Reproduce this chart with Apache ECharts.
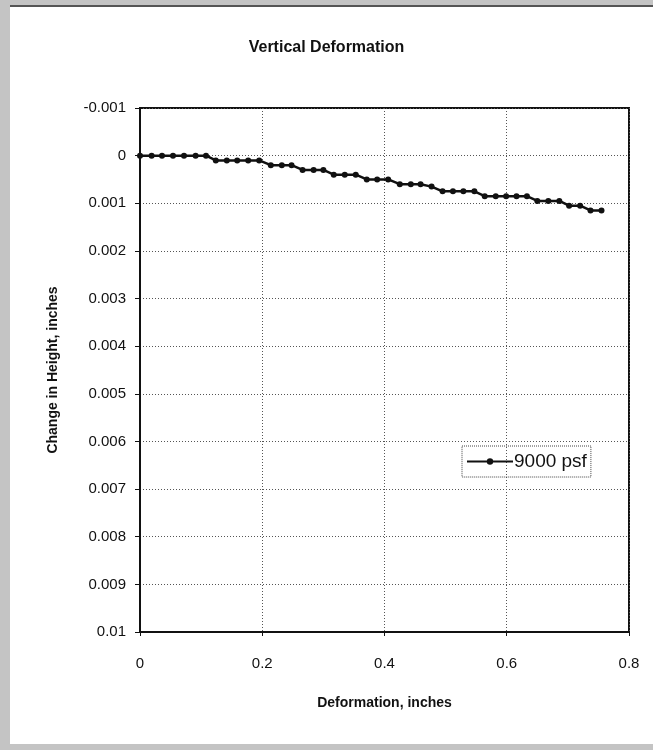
<!DOCTYPE html>
<html>
<head>
<meta charset="utf-8">
<script src="https://cdn.jsdelivr.net/npm/echarts@6/dist/echarts.min.js"></script>
<style>
  html, body { margin: 0; padding: 0; background: #fff; }
  #chart { width: 653px; height: 750px; }
</style>
</head>
<body>
<div id="chart"></div>
<script>
// deformation (inches)
const deformation = [
  0, 0.019, 0.036, 0.054, 0.072, 0.091, 0.108, 0.124, 0.142, 0.159, 0.177,
  0.195, 0.214, 0.232, 0.248, 0.266, 0.284, 0.300, 0.317, 0.335, 0.353,
  0.371, 0.388, 0.406, 0.425, 0.443, 0.459, 0.477, 0.495, 0.512, 0.529,
  0.547, 0.564, 0.582, 0.599, 0.616, 0.633, 0.650, 0.668, 0.686, 0.702,
  0.720, 0.737, 0.755
];
// change in height (inches), positive = down
const heightChange = [
  0, 0, 0, 0, 0, 0, 0, 0.0001, 0.0001, 0.0001, 0.0001,
  0.0001, 0.0002, 0.0002, 0.0002, 0.0003, 0.0003, 0.0003, 0.0004, 0.0004, 0.0004,
  0.0005, 0.0005, 0.0005, 0.0006, 0.0006, 0.0006, 0.00065, 0.00075, 0.00075, 0.00075,
  0.00075, 0.00085, 0.00085, 0.00085, 0.00085, 0.00085, 0.00095, 0.00095, 0.00095, 0.00105,
  0.00105, 0.00115, 0.00115
];
const seriesName = "9000 psf";
const xTicks = [0, 0.8, 0.2];        // min, max, step
const yTicks = [-0.001, 0.01, 0.001];

const points = deformation.map((d, i) => [d, heightChange[i]]);

const chart = echarts.init(document.getElementById("chart"));
const font = "Liberation Sans, Arial, sans-serif";

chart.setOption({
  animation: false,
  backgroundColor: "#fff",
  title: {
    text: "Vertical Deformation",
    left: "center",
    top: 35,
    textStyle: { fontFamily: font, fontSize: 16, fontWeight: "bold", color: "#111" },
  },
  grid: {
    left: 140,
    right: 24,
    top: 108,
    bottom: 118,
    show: true,
    borderColor: "#111",
    borderWidth: 2,
    containLabel: false,
  },
  legend: {
    data: [seriesName],
    left: 462,
    top: 446,
    orient: "vertical",
    borderColor: "#444",
    borderWidth: 1,
    borderType: "dotted",
    padding: [6, 4, 6, 4],
    itemWidth: 46,
    itemHeight: 8,
    itemGap: 0,
    textStyle: { fontFamily: font, fontSize: 19, color: "#111", padding: [0, 0, 0, -4] },
  },
  xAxis: {
    type: "value",
    min: xTicks[0],
    max: xTicks[1],
    interval: xTicks[2],
    name: "Deformation, inches",
    nameLocation: "middle",
    nameGap: 64,
    nameTextStyle: { fontFamily: font, fontSize: 14, fontWeight: "bold", color: "#111" },
    axisLine: { show: true, onZero: false, lineStyle: { color: "#111", width: 2 } },
    axisTick: { show: true, length: 4, lineStyle: { color: "#111" } },
    axisLabel: {
      margin: 24,
      fontFamily: font,
      fontSize: 15,
      color: "#111",
      formatter: (v) => String(+v.toFixed(1)),
    },
    splitLine: { show: true, lineStyle: { color: "#555", width: 1, type: [1, 2] } },
  },
  yAxis: {
    type: "value",
    inverse: true,
    min: yTicks[0],
    max: yTicks[1],
    interval: yTicks[2],
    name: "Change in Height, inches",
    nameLocation: "middle",
    nameGap: 80,
    nameTextStyle: { fontFamily: font, fontSize: 14, fontWeight: "bold", color: "#111" },
    axisLine: { show: true, onZero: false, lineStyle: { color: "#111", width: 2 } },
    axisTick: { show: true, length: 5, lineStyle: { color: "#111" } },
    axisLabel: {
      margin: 14,
      fontFamily: font,
      fontSize: 15,
      color: "#111",
      formatter: (v) => String(+v.toFixed(3)),
    },
    splitLine: { show: true, lineStyle: { color: "#555", width: 1, type: [1, 2] } },
  },
  series: [
    {
      name: seriesName,
      type: "line",
      data: points,
      symbol: "circle",
      symbolSize: 6,
      lineStyle: { color: "#111", width: 2.5 },
      itemStyle: { color: "#111" },
    },
  ],
  graphic: [
    // scanned page edges
    { type: "rect", left: 0, top: 0, shape: { width: 10, height: 750 }, style: { fill: "#c4c4c4" } },
    { type: "rect", left: 0, top: 0, shape: { width: 653, height: 5 }, style: { fill: "#c4c4c4" } },
    { type: "rect", left: 10, top: 5, shape: { width: 643, height: 2 }, style: { fill: "#555" } },
    { type: "rect", left: 10, top: 744, shape: { width: 643, height: 6 }, style: { fill: "#c4c4c4" } },
  ],
});
</script>
</body>
</html>
